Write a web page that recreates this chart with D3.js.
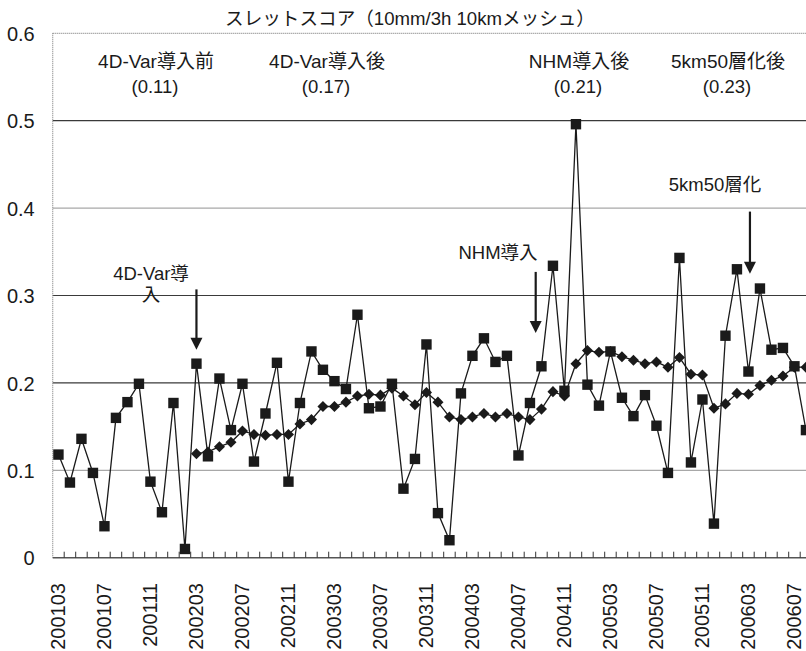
<!DOCTYPE html>
<html>
<head>
<meta charset="utf-8">
<script src="https://cdn.jsdelivr.net/npm/d3@7"></script>
<style>
  body { margin: 0; background: #fff; }
  svg { display: block; }
  text { font-family: "Liberation Sans", "Noto Sans CJK JP", sans-serif; fill: #1a1a1a; }
</style>
</head>
<body>
<svg width="806" height="651"></svg>
<script>
// threat score, monthly, 10mm/3h on 10km mesh
const months = [
  '200103','200104','200105','200106','200107','200108','200109','200110','200111','200112',
  '200201','200202','200203','200204','200205','200206','200207','200208','200209','200210','200211','200212',
  '200301','200302','200303','200304','200305','200306','200307','200308','200309','200310','200311','200312',
  '200401','200402','200403','200404','200405','200406','200407','200408','200409','200410','200411','200412',
  '200501','200502','200503','200504','200505','200506','200507','200508','200509','200510','200511','200512',
  '200601','200602','200603','200604','200605','200606','200607','200608'
];

// monthly score (squares)
const monthly = [
  0.118, 0.086, 0.136, 0.097, 0.036, 0.160, 0.178, 0.199, 0.087, 0.052,
  0.177, 0.010, 0.222, 0.116, 0.205, 0.146, 0.199, 0.110, 0.165, 0.223, 0.087, 0.177,
  0.236, 0.215, 0.202, 0.193, 0.278, 0.171, 0.173, 0.199, 0.079, 0.113, 0.244, 0.051,
  0.020, 0.188, 0.231, 0.251, 0.224, 0.231, 0.117, 0.177, 0.219, 0.334, 0.191, 0.496,
  0.198, 0.174, 0.236, 0.183, 0.162, 0.186, 0.151, 0.097, 0.343, 0.109, 0.181, 0.039,
  0.254, 0.330, 0.213, 0.308, 0.238, 0.240, 0.219, 0.146
];

// 12-month running mean (diamonds)
const running = [
  null, null, null, null, null, null, null, null, null, null,
  null, null, 0.119, 0.121, 0.127, 0.132, 0.145, 0.141, 0.140, 0.141, 0.141, 0.153,
  0.158, 0.173, 0.173, 0.178, 0.185, 0.187, 0.186, 0.194, 0.185, 0.175, 0.189, 0.178,
  0.161, 0.158, 0.161, 0.165, 0.161, 0.165, 0.161, 0.158, 0.170, 0.190, 0.185, 0.222,
  0.237, 0.235, 0.236, 0.230, 0.226, 0.222, 0.224, 0.218, 0.229, 0.210, 0.209, 0.171,
  0.176, 0.188, 0.187, 0.197, 0.203, 0.208, 0.218, 0.218
];

const yTicks = [0, 0.1, 0.2, 0.3, 0.4, 0.5, 0.6];

const periodNames = ['4D-Var導入前', '4D-Var導入後', 'NHM導入後', '5km50層化後'];
const periodScores = ['(0.11)', '(0.17)', '(0.21)', '(0.23)'];

const svg = d3.select('svg');

const x = d3.scaleBand().domain(months).range([52.7, 811.7]).padding(0);
const y = d3.scaleLinear().domain([0, 0.6]).range([557.7, 33.3]);
const cx = d => x(d) + x.bandwidth() / 2;

// gridlines
svg.append('g')
  .selectAll('line')
  .data(yTicks.filter(t => t > 0 && t < 0.6))
  .enter().append('line')
    .attr('x1', 52.7).attr('x2', 806)
    .attr('y1', d => y(d)).attr('y2', d => y(d))
    .attr('stroke', d => (d === 0.1 || d === 0.4) ? '#a8a8a8' : '#3a3a3a')
    .attr('stroke-width', 1.2);

// frame: top and left dotted grey, bottom axis
svg.append('line').attr('x1', 52.7).attr('x2', 806).attr('y1', y(0.6)).attr('y2', y(0.6))
  .attr('stroke', '#8a8a8a').attr('stroke-width', 1.2).attr('stroke-dasharray', '1,1');
svg.append('line').attr('x1', 52.7).attr('x2', 52.7).attr('y1', y(0.6)).attr('y2', y(0))
  .attr('stroke', '#8a8a8a').attr('stroke-width', 1.2).attr('stroke-dasharray', '1,1');

// y axis labels
const yAxis = d3.axisLeft(y).tickValues(yTicks).tickSize(0).tickPadding(18)
  .tickFormat(d => d === 0 ? '0' : d3.format('.1f')(d));
svg.append('g').attr('transform', 'translate(52.7,0)').call(yAxis)
  .call(g => g.select('.domain').remove())
  .selectAll('text')
    .attr('font-size', 20).attr('fill', '#1a1a1a')
    .style('font-family', '"Liberation Sans", sans-serif')
    .attr('dy', '0.36em');

// x axis: ticks at category boundaries, pointing up
svg.append('line').attr('x1', 52.7).attr('x2', 806).attr('y1', y(0)).attr('y2', y(0))
  .attr('stroke', '#555').attr('stroke-width', 1.4);
svg.append('g')
  .selectAll('line')
  .data(months.slice(1))
  .enter().append('line')
    .attr('x1', d => x(d)).attr('x2', d => x(d))
    .attr('y1', y(0)).attr('y2', y(0) - 6)
    .attr('stroke', '#333').attr('stroke-width', 1);

svg.append('g')
  .selectAll('text')
  .data(months.filter((d, i) => i % 4 === 0))
  .enter().append('text')
    .attr('transform', d => `translate(${cx(d) + 7},583) rotate(-90)`)
    .attr('text-anchor', 'end')
    .attr('font-size', 20)
    .text(d => d);

// title
svg.append('text')
  .attr('x', 410).attr('y', 25)
  .attr('text-anchor', 'middle')
  .attr('font-size', 18.6)
  .text('スレットスコア（10mm/3h 10kmメッシュ）');

// period labels
const periodX = [156, 327, 579, 728];
periodNames.forEach((n, i) => {
  svg.append('text').attr('x', periodX[i]).attr('y', 68).attr('text-anchor', 'middle')
    .attr('font-size', 19).text(n);
  svg.append('text').attr('x', periodX[i] - 1).attr('y', 93).attr('text-anchor', 'middle')
    .attr('font-size', 18.5).text(periodScores[i]);
});

// series lines
const line = d3.line()
  .defined(d => d.v !== null)
  .x(d => cx(d.m))
  .y(d => y(d.v));

const sq = months.map((m, i) => ({ m, v: monthly[i] }));
const dm = months.map((m, i) => ({ m, v: running[i] }));

svg.append('path').datum(dm).attr('d', line)
  .attr('fill', 'none').attr('stroke', '#1a1a1a').attr('stroke-width', 1.3);
svg.append('path').datum(sq).attr('d', line)
  .attr('fill', 'none').attr('stroke', '#1a1a1a').attr('stroke-width', 1.3);

svg.append('g')
  .selectAll('path')
  .data(dm.filter(d => d.v !== null))
  .enter().append('path')
    .attr('transform', d => `translate(${cx(d.m)},${y(d.v)})`)
    .attr('d', d3.symbol().type(d3.symbolDiamond2).size(78))
    .attr('fill', '#1a1a1a');

svg.append('g')
  .selectAll('rect')
  .data(sq)
  .enter().append('rect')
    .attr('x', d => cx(d.m) - 5.2).attr('y', d => y(d.v) - 5.2)
    .attr('width', 10.4).attr('height', 10.4)
    .attr('fill', '#1a1a1a');

// arrows with notes
const notes = [
  { lines: ['4D-Var導', '入'], tx: 151, ty: 280, ax: cx('200203'), top: 0.307, tip: 0.238 },
  { lines: ['NHM導入'], tx: 498, ty: 259, ax: x('200409'), top: 0.327, tip: 0.257 },
  { lines: ['5km50層化'], tx: 715, ty: 191, ax: cx('200603') + 1.5, top: 0.396, tip: 0.325 }
];
notes.forEach(n => {
  n.lines.forEach((t, i) => {
    svg.append('text').attr('x', n.tx).attr('y', n.ty + i * 21)
      .attr('text-anchor', 'middle').attr('font-size', 18.5).text(t);
  });
  svg.append('line').attr('x1', n.ax).attr('x2', n.ax)
    .attr('y1', y(n.top)).attr('y2', y(n.tip) - 10)
    .attr('stroke', '#1a1a1a').attr('stroke-width', 2.2);
  svg.append('path')
    .attr('d', `M${n.ax - 6},${y(n.tip) - 12} L${n.ax + 6},${y(n.tip) - 12} L${n.ax},${y(n.tip)} Z`)
    .attr('fill', '#1a1a1a');
});
</script>
</body>
</html>
